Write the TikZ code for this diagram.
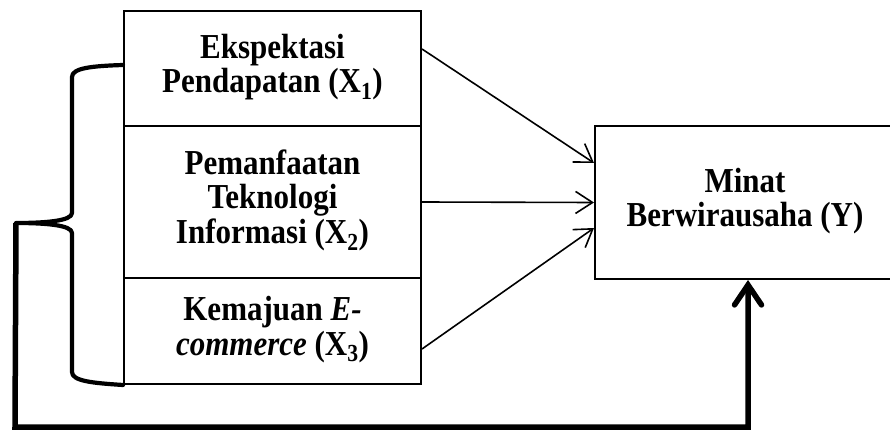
\documentclass[tikz,border=0pt]{standalone}
\usepackage{fontspec}
\setmainfont{Liberation Serif}
\usetikzlibrary{arrows.meta}
\newcommand{\vartext}[1]{\scalebox{1}[1.13]{\begin{tabular}{@{}c@{}}#1\end{tabular}}}
\tikzset{
  varbox/.style={draw, line width=2pt, rectangle, inner sep=0pt, align=center,
    font=\fontsize{31}{30.5}\selectfont\bfseries},
  thinarrow/.style={line width=1.6pt, -{Straight Barb[length=17pt,width=22pt,line width=1.6pt]}},
  bracestyle/.style={line width=4.2pt, line cap=round, line join=round},
  fbarrow/.style={line width=5.5pt, line join=miter,
    -{Straight Barb[length=20pt,width=27pt,line width=5.5pt, line cap=round]}},
}
\begin{document}
\begin{tikzpicture}[x=1pt,y=-1pt]
\useasboundingbox (0,0) rectangle (890,430);
\clip (0,0) rectangle (890,430);
\node[varbox, minimum width=297pt, minimum height=115pt] (x1) at (272.5,68.5)
  {\vartext{Ekspektasi\\Pendapatan (X\textsubscript{1})}};
\node[varbox, minimum width=297pt, minimum height=152pt] (x2) at (272.5,202)
  {\vartext{Pemanfaatan\\Teknologi\\Informasi (X\textsubscript{2})}};
\node[varbox, minimum width=297pt, minimum height=106pt] (x3) at (272.5,331)
  {\vartext{Kemajuan \textit{E-}\\\textit{commerce} (X\textsubscript{3})}};
\node[varbox, minimum width=300pt, minimum height=153pt] (y) at (745,202.5)
  {\vartext{Minat\\Berwirausaha (Y)}};
% arrows
\draw[thinarrow] ([yshift=19.5pt]x1.east) -- ([yshift=39.5pt]y.west);
\draw[thinarrow] (x2.east) -- (y.west);
\draw[thinarrow] ([yshift=-18pt]x3.east) -- ([yshift=-25.5pt]y.west);
% brace
\coordinate (tip) at (16,223);
\draw[bracestyle] (x1.west |- 0,65) .. controls (92,66) and (72,68) .. (72,77)
  -- (72,213) .. controls (72,221) and (45,223) .. (tip)
  .. controls (45,223) and (72,225) .. (72,233)
  -- (72,372) .. controls (72,381) and (92,383) .. (x3.south west);
% feedback
\draw[fbarrow] (tip) -- (15,427) -| ([xshift=3pt]y.south);
\end{tikzpicture}
\end{document}
